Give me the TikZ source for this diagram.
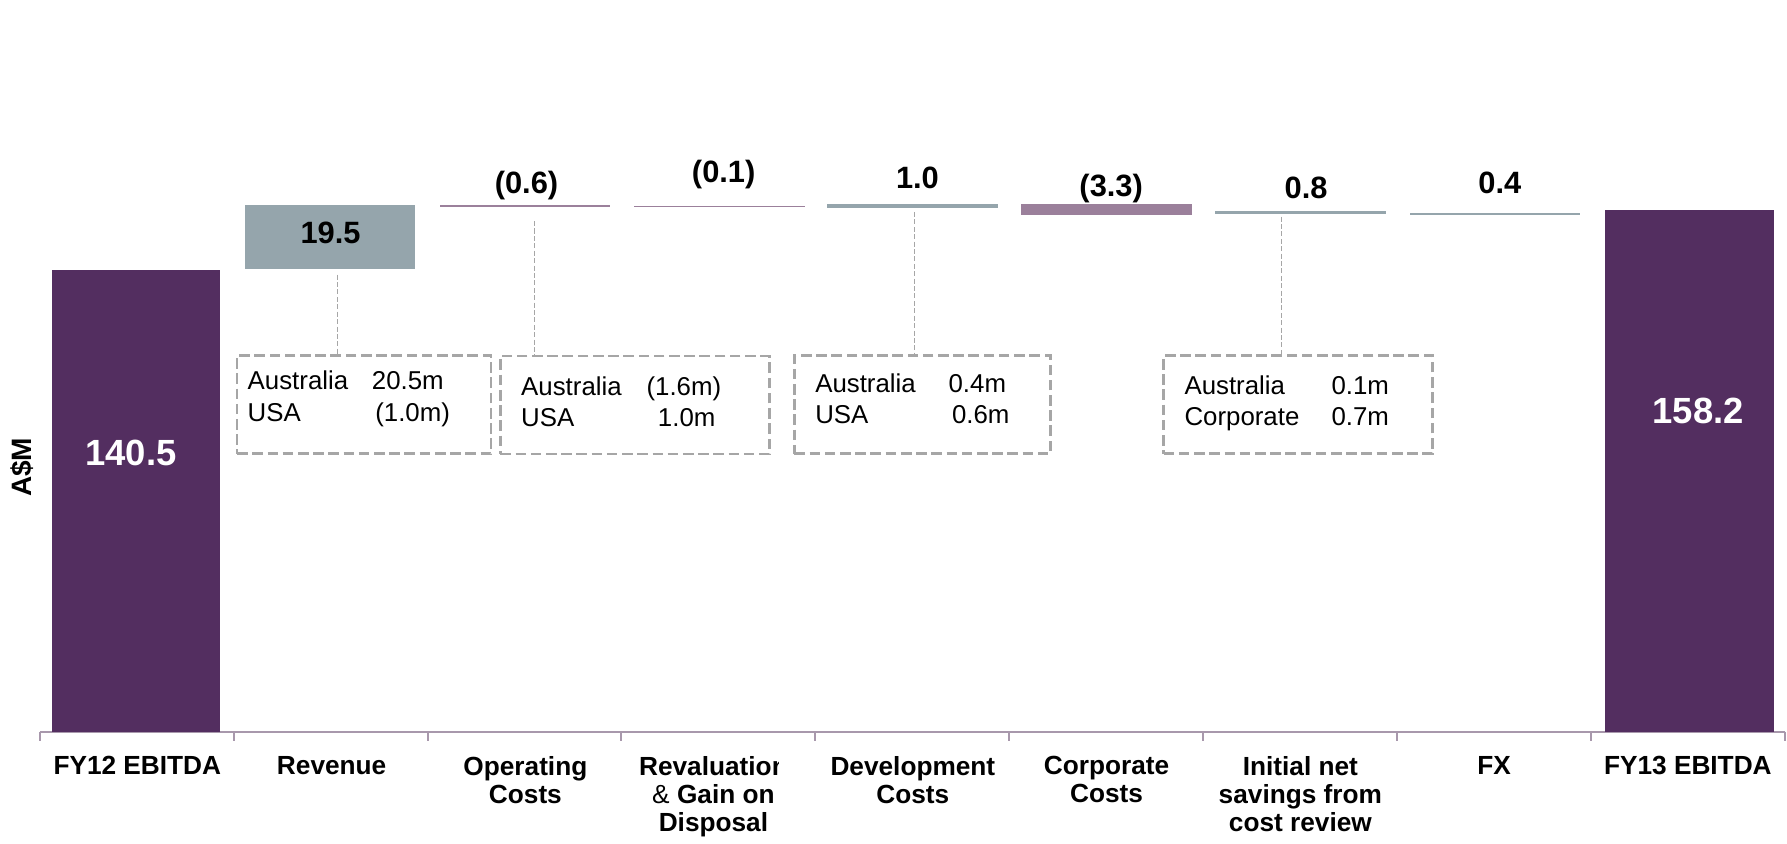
\documentclass[tikz,border=0pt]{standalone}
\usepackage{fontspec}
\setmainfont{Liberation Sans}
\usetikzlibrary{positioning}
\definecolor{EbitdaPurple}{RGB}{83,46,96}
\definecolor{UpGray}{RGB}{149,165,172}
\definecolor{DownMauve}{RGB}{155,128,155}
\definecolor{BoxGray}{RGB}{166,166,166}
\definecolor{AxisGray}{RGB}{168,152,172}
\tikzset{
  catlabel/.style={font=\bfseries\fontsize{13.1}{14.2}\selectfont,align=center,anchor=north,inner sep=0pt},
  vallabel/.style={font=\bfseries\fontsize{15.4}{18}\selectfont,anchor=base,inner sep=0pt},
  totlabel/.style={font=\bfseries\fontsize{18.2}{21}\selectfont,text=white,anchor=base,inner sep=0pt},
  boxtext/.style={font=\fontsize{12.9}{15}\selectfont,anchor=base west,inner sep=0pt},
  detailbox/.style={draw=BoxGray,line width=1.3pt,dash pattern=on 5.3pt off 2.3pt,minimum height=1.72cm},
  leader/.style={draw=BoxGray,line width=0.5pt,dash pattern=on 2.5pt off 1.2pt}
}

\begin{document}
\begin{tikzpicture}[line cap=butt,line join=miter,x=0.02cm,y=0.02cm]
  \useasboundingbox (0,0) rectangle (1568,740);
  % axis and ticks
  \draw[color=AxisGray,line width=1pt] (35,98) -- (1566,98);
  \foreach \i in {0,...,9}
  \draw[shift={({35+170.1*\i},98)},color=AxisGray,line width=1pt] (0,0) -- (0,-8);
  % bars
  \fill[EbitdaPurple] (46,98) rectangle (193,503);
  \fill[UpGray] (215,504) rectangle (364,560);
  \fill[DownMauve] (386,558.3) rectangle (535,560);
  \fill[DownMauve] (556,558) rectangle (706,559.2);
  \fill[UpGray] (726,557.5) rectangle (876,561);
  \fill[DownMauve] (896,551.5) rectangle (1046,561);
  \fill[UpGray] (1066,552.5) rectangle (1216,555);
  \fill[UpGray] (1237,551.2) rectangle (1386,553.2);
  \fill[EbitdaPurple] (1408,98) rectangle (1557,556);
  % values
  \node[totlabel] (fy12val) at (115,331.5) {140.5};
  \node[vallabel] (revval) at (290,526) {19.5};
  \node[vallabel] (opval) at (462,570) {(0.6)};
  \node[vallabel] (revalval) at (635,580) {(0.1)};
  \node[vallabel] (devval) at (805,575) {1.0};
  \node[vallabel] (corpval) at (975,568) {(3.3)};
  \node[vallabel] (saveval) at (1146,566) {0.8};
  \node[vallabel] (fxval) at (1316,570) {0.4};
  \node[totlabel] (fy13val) at (1490,368.5) {158.2};
  \node[font=\bfseries\fontsize{14}{16}\selectfont,rotate=90] (unit) at (19,330) {A\$M};
  % detail boxes
  \node[detailbox,minimum width=4.46cm] (box1) at (319.5,385) {};
  \node[detailbox,minimum width=4.72cm] (box2) at (557,384.5) {};
  \node[detailbox,minimum width=4.5cm] (box3) at (809.5,385) {};
  \node[detailbox,minimum width=4.72cm] (box4) at (1139,385) {};
  \node[boxtext] (aus1) at (217,398) {Australia};
  \node[boxtext] (aus1v) at (326,398) {20.5m};
  \node[boxtext] (usa1) at (217,370) {USA};
  \node[boxtext] (usa1v) at (329,370) {(1.0m)};
  \node[boxtext] (aus2) at (457,393) {Australia};
  \node[boxtext] (aus2v) at (567,393) {(1.6m)};
  \node[boxtext] (usa2) at (457,366) {USA};
  \node[boxtext] (usa2v) at (577,366) {1.0m};
  \node[boxtext] (aus3) at (715,396) {Australia};
  \node[boxtext] (aus3v) at (832,396) {0.4m};
  \node[boxtext] (usa3) at (715,368) {USA};
  \node[boxtext] (usa3v) at (835,368) {0.6m};
  \node[boxtext] (aus4) at (1039,394) {Australia};
  \node[boxtext] (aus4v) at (1168,394) {0.1m};
  \node[boxtext] (corp4) at (1039,367) {Corporate};
  \node[boxtext] (corp4v) at (1168,367) {0.7m};
  % leaders
  \coordinate (revbot) at (296,499);
  \coordinate (opbot) at (469,546);
  \coordinate (devbot) at (802,554);
  \coordinate (savebot) at (1124,550);
  \draw[leader] (revbot) -- (revbot |- box1.north);
  \draw[leader] (opbot) -- (opbot |- box2.north);
  \draw[leader] (devbot) -- (devbot |- box3.north);
  \draw[leader] (savebot) -- (savebot |- box4.north);
  % categories
  \node[catlabel] (cat1) at (120.5,77) {FY12 EBITDA};
  \node[catlabel] (cat2) at (291,77) {Revenue};
  \node[catlabel] (cat3) at (461,77) {Operating\\Costs};
  \begin{scope}
    \clip (546,0) rectangle (683,98);
    \node[catlabel] (cat4) at (626,77) {Revaluation\\{\mdseries\&} Gain on\\Disposal};
  \end{scope}
  \node[catlabel] (cat5) at (801,77) {Development\\Costs};
  \node[catlabel] (cat6) at (971,77) {Corporate\\Costs};
  \node[catlabel] (cat7) at (1141,77) {Initial net\\savings from\\cost review};
  \node[catlabel] (cat8) at (1311,77) {FX};
  \node[catlabel] (cat9) at (1481,77) {FY13 EBITDA};
\end{tikzpicture}
\end{document}
